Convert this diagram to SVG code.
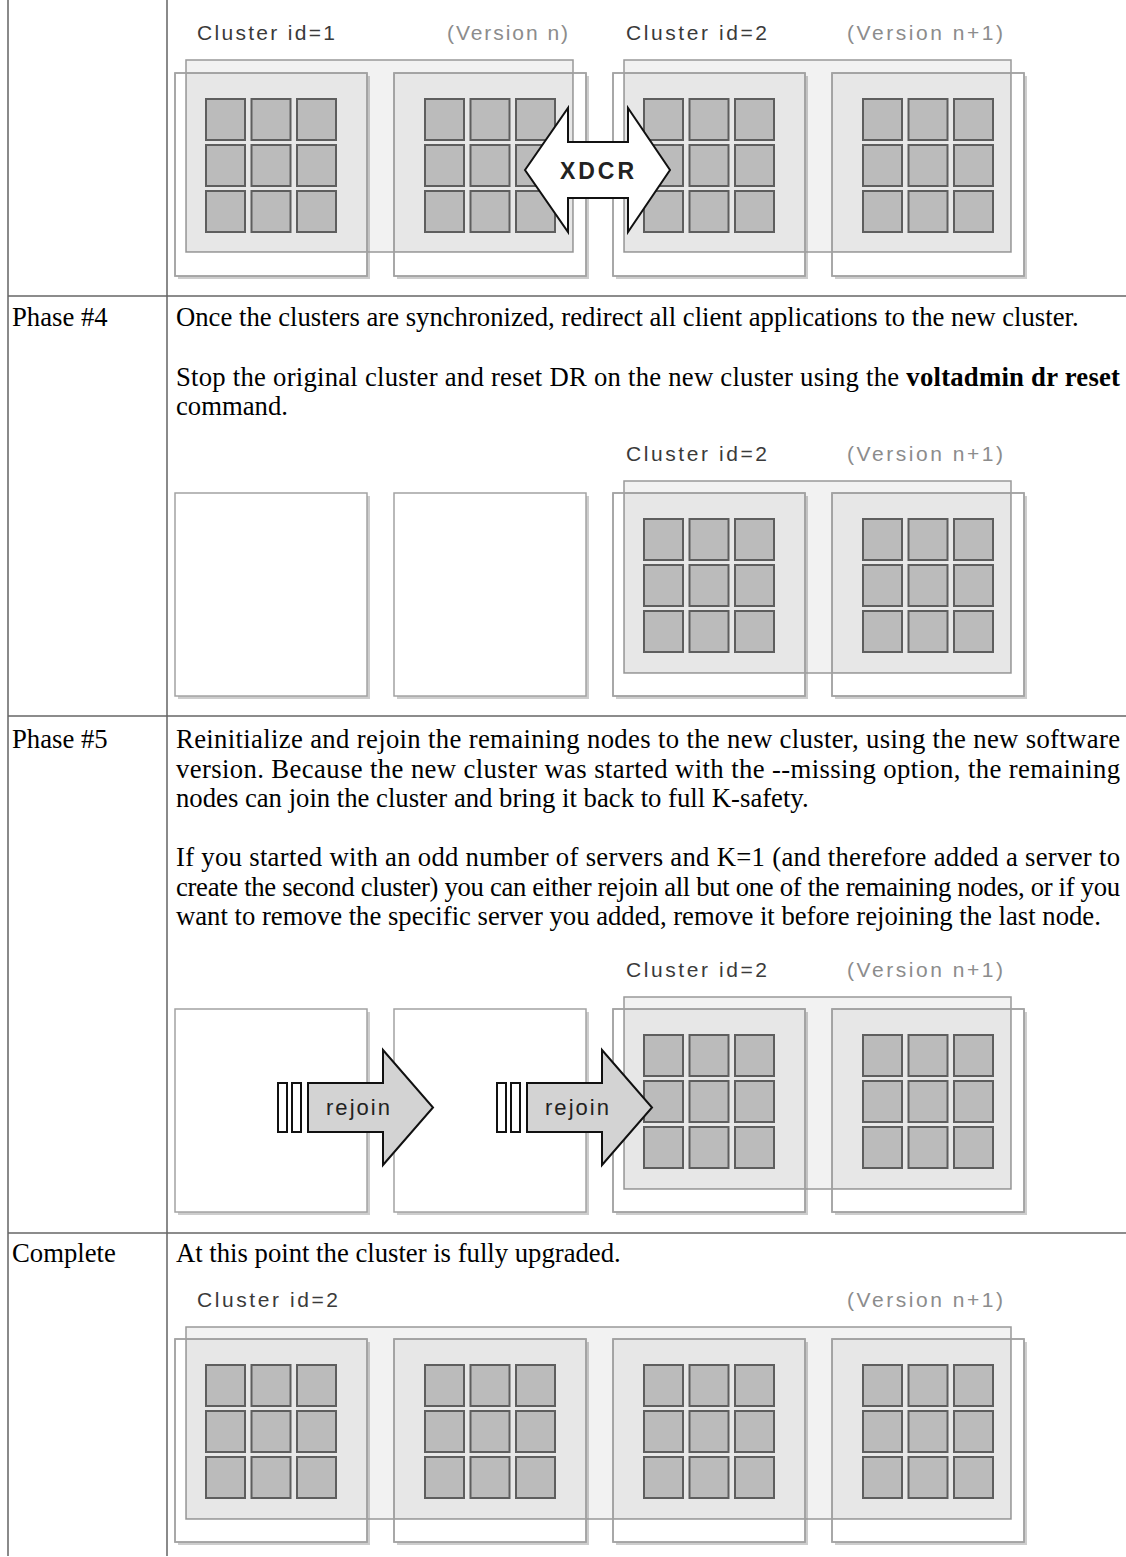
<svg xmlns="http://www.w3.org/2000/svg" width="1126" height="1557" viewBox="0 0 1126 1557">
<style>
.shadow{fill:#cdcdcd}
.box{fill:#fff;stroke:#a3a3a3;stroke-width:1.5}
.edge{fill:none;stroke:#a3a3a3;stroke-width:1.5}
.clu{fill:#000;fill-opacity:.05;stroke:#999;stroke-width:1.5}
.ov{fill:#000;fill-opacity:.045}
.sq{fill:#bbb;stroke:#5e5e5e;stroke-width:2}
.lbl{font-family:"Liberation Sans",Arial,sans-serif;font-size:21px;fill:#3a3a3a}
.ver{font-family:"Liberation Sans",Arial,sans-serif;font-size:21px;fill:#8c8c8c}
.body{font-family:"Liberation Serif","Times New Roman",serif;font-size:26.7px;fill:#000}
.tbl{stroke:#8a8a8a;stroke-width:2}
.hr{stroke:#666;stroke-width:1.4}
.arr{stroke:#111;stroke-width:2;stroke-linejoin:miter}
.atxt{font-family:"Liberation Sans",Arial,sans-serif;fill:#222}
</style>
<defs>
<g id="srv">
<rect class="shadow" x="3" y="3" width="192" height="203"/>
<rect class="box" x="0" y="0" width="192" height="203"/>
</g>
<g id="grid">
<rect class="sq" x="31" y="26" width="39" height="41"/>
<rect class="sq" x="76.5" y="26" width="39" height="41"/>
<rect class="sq" x="122" y="26" width="39" height="41"/>
<rect class="sq" x="31" y="72" width="39" height="41"/>
<rect class="sq" x="76.5" y="72" width="39" height="41"/>
<rect class="sq" x="122" y="72" width="39" height="41"/>
<rect class="sq" x="31" y="118" width="39" height="41"/>
<rect class="sq" x="76.5" y="118" width="39" height="41"/>
<rect class="sq" x="122" y="118" width="39" height="41"/>
</g>
</defs>

<g id="table">
<line class="tbl" x1="8" y1="0" x2="8" y2="1556"/>
<line class="tbl" x1="167" y1="0" x2="167" y2="1556"/>
<line class="hr" x1="8" y1="296" x2="1126" y2="296"/>
<line class="hr" x1="8" y1="716" x2="1126" y2="716"/>
<line class="hr" x1="8" y1="1233" x2="1126" y2="1233"/>
</g>

<g id="row-labels">
<text class="body" x="12" y="326">Phase #4</text>
<text class="body" x="12" y="748">Phase #5</text>
<text class="body" x="12" y="1262">Complete</text>
</g>

<g id="text-phase4">
<text class="body" x="176" y="326">Once the clusters are synchronized, redirect all client applications to the new cluster.</text>
<text class="body" x="176" y="386" textLength="944" lengthAdjust="spacing">Stop the original cluster and reset DR on the new cluster using the <tspan font-weight="bold">voltadmin dr reset</tspan></text>
<text class="body" x="176" y="415">command.</text>
</g>

<g id="text-phase5">
<text class="body" x="176" y="748" textLength="944" lengthAdjust="spacing">Reinitialize and rejoin the remaining nodes to the new cluster, using the new software</text>
<text class="body" x="176" y="777.5" textLength="944" lengthAdjust="spacing">version. Because the new cluster was started with the --missing option, the remaining</text>
<text class="body" x="176" y="807">nodes can join the cluster and bring it back to full K-safety.</text>
<text class="body" x="176" y="866" textLength="944" lengthAdjust="spacing">If you started with an odd number of servers and K=1 (and therefore added a server to</text>
<text class="body" x="176" y="895.5" textLength="944" lengthAdjust="spacing">create the second cluster) you can either rejoin all but one of the remaining nodes, or if you</text>
<text class="body" x="176" y="925">want to remove the specific server you added, remove it before rejoining the last node.</text>
</g>

<g id="text-complete">
<text class="body" x="176" y="1262">At this point the cluster is fully upgraded.</text>
</g>

<!-- Diagram 1: XDCR between cluster 1 and cluster 2 -->
<g id="diagram-xdcr">
<text class="lbl" x="197" y="40" textLength="138" lengthAdjust="spacing">Cluster id=1</text>
<text class="ver" x="447" y="40" textLength="121" lengthAdjust="spacing">(Version n)</text>
<text class="lbl" x="626" y="40" textLength="141" lengthAdjust="spacing">Cluster id=2</text>
<text class="ver" x="847" y="40" textLength="156" lengthAdjust="spacing">(Version n+1)</text>
<g id="d1-server1"><use href="#srv" x="175" y="73"/></g>
<g id="d1-server2"><use href="#srv" x="394" y="73"/></g>
<g id="d1-server3"><use href="#srv" x="613" y="73"/></g>
<g id="d1-server4"><use href="#srv" x="832" y="73"/></g>
<g id="d1-cluster1">
<rect class="clu" x="186" y="60" width="387" height="192"/>
<rect class="ov" x="186" y="73" width="181" height="179"/>
<rect class="ov" x="394" y="73" width="179" height="179"/>
</g>
<g id="d1-cluster2">
<rect class="clu" x="624" y="60" width="387" height="192"/>
<rect class="ov" x="624" y="73" width="181" height="179"/>
<rect class="ov" x="832" y="73" width="179" height="179"/>
</g>
<rect class="edge" x="175" y="73" width="192" height="203"/>
<rect class="edge" x="394" y="73" width="192" height="203"/>
<rect class="edge" x="613" y="73" width="192" height="203"/>
<rect class="edge" x="832" y="73" width="192" height="203"/>
<use href="#grid" x="175" y="73"/>
<use href="#grid" x="394" y="73"/>
<use href="#grid" x="613" y="73"/>
<use href="#grid" x="832" y="73"/>
</g>

<!-- Diagram 2: Phase 4 -->
<g id="diagram-phase4">
<text class="lbl" x="626" y="461" textLength="141" lengthAdjust="spacing">Cluster id=2</text>
<text class="ver" x="847" y="461" textLength="156" lengthAdjust="spacing">(Version n+1)</text>
<g id="d2-server1"><use href="#srv" x="175" y="493"/></g>
<g id="d2-server2"><use href="#srv" x="394" y="493"/></g>
<g id="d2-server3"><use href="#srv" x="613" y="493"/></g>
<g id="d2-server4"><use href="#srv" x="832" y="493"/></g>
<g id="d2-cluster2">
<rect class="clu" x="624" y="481" width="387" height="192"/>
<rect class="ov" x="624" y="493" width="181" height="180"/>
<rect class="ov" x="832" y="493" width="179" height="180"/>
</g>
<rect class="edge" x="613" y="493" width="192" height="203"/>
<rect class="edge" x="832" y="493" width="192" height="203"/>
<use href="#grid" x="613" y="493"/>
<use href="#grid" x="832" y="493"/>
</g>

<!-- Diagram 3: Phase 5 -->
<g id="diagram-phase5">
<text class="lbl" x="626" y="977" textLength="141" lengthAdjust="spacing">Cluster id=2</text>
<text class="ver" x="847" y="977" textLength="156" lengthAdjust="spacing">(Version n+1)</text>
<g id="d3-server1"><use href="#srv" x="175" y="1009"/></g>
<g id="d3-server2"><use href="#srv" x="394" y="1009"/></g>
<g id="d3-server3"><use href="#srv" x="613" y="1009"/></g>
<g id="d3-server4"><use href="#srv" x="832" y="1009"/></g>
<g id="d3-cluster2">
<rect class="clu" x="624" y="997" width="387" height="192"/>
<rect class="ov" x="624" y="1009" width="181" height="180"/>
<rect class="ov" x="832" y="1009" width="179" height="180"/>
</g>
<rect class="edge" x="613" y="1009" width="192" height="203"/>
<rect class="edge" x="832" y="1009" width="192" height="203"/>
<use href="#grid" x="613" y="1009"/>
<use href="#grid" x="832" y="1009"/>
</g>

<!-- Diagram 4: Complete -->
<g id="diagram-complete">
<text class="lbl" x="197" y="1307" textLength="141" lengthAdjust="spacing">Cluster id=2</text>
<text class="ver" x="847" y="1307" textLength="156" lengthAdjust="spacing">(Version n+1)</text>
<g id="d4-server1"><use href="#srv" x="175" y="1339"/></g>
<g id="d4-server2"><use href="#srv" x="394" y="1339"/></g>
<g id="d4-server3"><use href="#srv" x="613" y="1339"/></g>
<g id="d4-server4"><use href="#srv" x="832" y="1339"/></g>
<g id="d4-cluster2">
<rect class="clu" x="186" y="1327" width="825" height="192"/>
<rect class="ov" x="186" y="1339" width="181" height="180"/>
<rect class="ov" x="394" y="1339" width="192" height="180"/>
<rect class="ov" x="613" y="1339" width="192" height="180"/>
<rect class="ov" x="832" y="1339" width="179" height="180"/>
</g>
<rect class="edge" x="175" y="1339" width="192" height="203"/>
<rect class="edge" x="394" y="1339" width="192" height="203"/>
<rect class="edge" x="613" y="1339" width="192" height="203"/>
<rect class="edge" x="832" y="1339" width="192" height="203"/>
<use href="#grid" x="175" y="1339"/>
<use href="#grid" x="394" y="1339"/>
<use href="#grid" x="613" y="1339"/>
<use href="#grid" x="832" y="1339"/>
</g>

<g id="connectors">
<g id="xdcr">
<polygon class="arr" fill="#fff" points="525,170 568,108 568,142 628,142 628,108 670,170 628,232 628,198 568,198 568,232"/>
<text class="atxt" x="560" y="179" font-size="23" font-weight="bold" textLength="74" lengthAdjust="spacing">XDCR</text>
</g>
<g id="rejoin1">
<rect class="arr" fill="#fff" x="278" y="1083" width="9" height="49"/>
<rect class="arr" fill="#fff" x="292" y="1083" width="9" height="49"/>
<polygon class="arr" fill="#d3d3d3" points="308,1083 383,1083 383,1050 433,1107.5 383,1165 383,1132 308,1132"/>
<text class="atxt" x="326" y="1115" font-size="22" textLength="64" lengthAdjust="spacing">rejoin</text>
</g>
<g id="rejoin2">
<rect class="arr" fill="#fff" x="497" y="1083" width="9" height="49"/>
<rect class="arr" fill="#fff" x="511" y="1083" width="9" height="49"/>
<polygon class="arr" fill="#d3d3d3" points="527,1083 602,1083 602,1050 652,1107.5 602,1165 602,1132 527,1132"/>
<text class="atxt" x="545" y="1115" font-size="22" textLength="64" lengthAdjust="spacing">rejoin</text>
</g>
</g>
</svg>
